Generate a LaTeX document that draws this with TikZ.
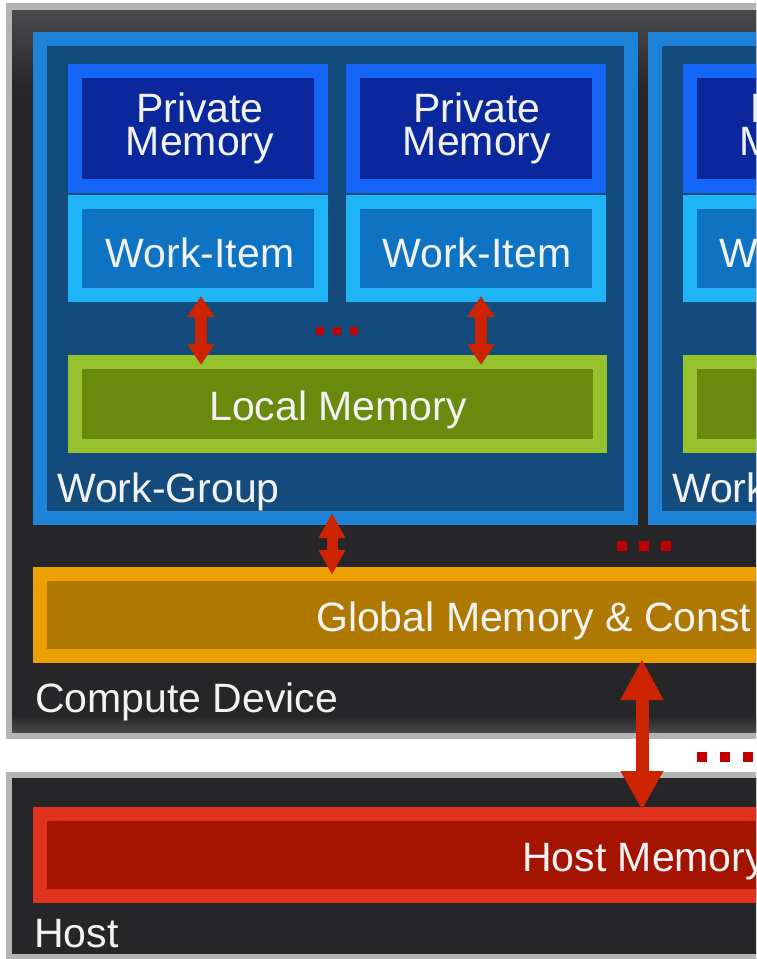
\documentclass[tikz,border=0pt]{standalone}
\usepackage{fontspec}
\setmainfont{Liberation Sans}
\usetikzlibrary{arrows.meta,fit}

\definecolor{rim}{HTML}{B4B4B4}
\definecolor{panel}{HTML}{262628}
\definecolor{panelhi}{HTML}{4A4A4C}
\definecolor{wgout}{HTML}{1E82D6}
\definecolor{wgin}{HTML}{144B7D}
\definecolor{pmout}{HTML}{1464F5}
\definecolor{pmin}{HTML}{0A289B}
\definecolor{wiout}{HTML}{1EB4F5}
\definecolor{wiin}{HTML}{0F73C3}
\definecolor{lmout}{HTML}{96C32D}
\definecolor{lmin}{HTML}{698A0C}
\definecolor{gmout}{HTML}{EBA000}
\definecolor{gmin}{HTML}{AF7800}
\definecolor{hmout}{HTML}{E1321E}
\definecolor{hmin}{HTML}{A51400}
\definecolor{arrowred}{HTML}{CD2300}
\definecolor{dotred}{HTML}{C30000}
\definecolor{txt}{HTML}{F2F2F2}

\begin{document}
\begin{tikzpicture}[x=1pt,y=-1pt,
  box/.style n args={2}{rectangle,draw=#1,fill=#2,line width=14pt,inner sep=-7pt},
  lbl/.style={text=txt,inner sep=0pt,font=\fontsize{41}{33}\selectfont},
  dbl/.style n args={4}{draw=arrowred,line width=#1,
    {Triangle[width=#2,length=#3]}-{Triangle[width=#2,length=#4]}},
  dot/.style={fill=dotred}]
\useasboundingbox (0,0) rectangle (756,959);
\clip (0,0) rectangle (756,959);
\fill[white] (0,0) rectangle (756,959);

% compute device panel
\fill[rim] (6,3) rectangle (800,739);
\fill[panel] (12,10) rectangle (800,732);
\shade[top color=panelhi,bottom color=panel] (12,10) rectangle (800,90);
\shade[top color=panel,bottom color=panelhi] (12,716) rectangle (800,732);

% host panel
\fill[rim] (6,772) rectangle (800,962);
\fill[panel] (12,778) rectangle (800,954);
\shade[top color=panelhi!120,bottom color=panel] (12,778) rectangle (800,815);

% work-groups
\node[box={wgout}{wgin},fit={(33,32) (638,525)}] (wg1) {};
\node[box={wgout}{wgin},fit={(648,32) (1253,525)}] (wg2) {};

% private memories and work-items
\node[box={pmout}{pmin},fit={(68,64) (328,193)}] (pm1) {};
\node[box={wiout}{wiin},fit={(68,195) (328,302)}] (wi1) {};
\node[box={pmout}{pmin},fit={(346,64) (606,193)}] (pm2) {};
\node[box={wiout}{wiin},fit={(346,195) (606,302)}] (wi2) {};
\node[box={pmout}{pmin},fit={(683,64) (943,193)}] (pm3) {};
\node[box={wiout}{wiin},fit={(683,195) (943,302)}] (wi3) {};

% local memories
\node[box={lmout}{lmin},fit={(68,355) (607,453)}] (lm1) {};
\node[box={lmout}{lmin},fit={(683,355) (1222,453)}] (lm2) {};

% global and host memory
\node[box={gmout}{gmin},fit={(33,567) (1300,663)}] (gm) {};
\node[box={hmout}{hmin},fit={(33,807) (1300,903)}] (hm) {};

% labels
\node[lbl,align=center] (pm1t) at (200,128) {Private\\Memory};
\node[lbl,align=center] (pm2t) at (477,128) {Private\\Memory};
\node[lbl,anchor=base] (wi1t) at (200,267) {Work-Item};
\node[lbl,anchor=base] (wi2t) at (477,267) {Work-Item};
\node[lbl,anchor=base west] (pm3a) at (750,122) {P};
\node[lbl,anchor=base west] (pm3b) at (739,155) {M};
\node[lbl,anchor=base west] (wi3t) at (719,267) {W};
\node[lbl,anchor=base] (lm1t) at (338,420) {Local Memory};
\node[lbl,anchor=base west] (wg1t) at (57,502) {Work-Group};
\node[lbl,anchor=base west] (wg2t) at (672,502) {Work};
\node[lbl,anchor=base west] (gmt) at (316,631) {Global Memory \& Const};
\node[lbl,anchor=base west] (cdt) at (35,712) {Compute Device};
\node[lbl,anchor=base west] (hmt) at (522,871) {Host Memory};
\node[lbl,anchor=base west] (hostt) at (34,947) {Host};

% connectors
\draw[dbl={12pt}{26pt}{21pt}{21pt}]
  ([xshift=3pt,yshift=6pt]wi1.south) -- ([xshift=3pt,yshift=-10pt]wi1.south |- lm1.north);
\draw[dbl={12pt}{26pt}{21pt}{21pt}]
  ([xshift=5pt,yshift=6pt]wi2.south) -- ([xshift=5pt,yshift=-10pt]wi2.south |- lm1.north);
\coordinate (mx) at (332,0);
\draw[dbl={11pt}{25pt}{25pt}{25pt}]
  ([yshift=12pt]mx |- wg1.south) -- ([yshift=-8pt]mx |- gm.north);
\coordinate (bx) at (642,0);
\draw[dbl={13pt}{40pt}{41pt}{39pt}]
  ([yshift=4pt]bx |- gm.south) -- ([yshift=-3pt]bx |- hm.north);

% ellipsis marks
\foreach \x in {316,333,350} \fill[dot] (\x,327) rectangle +(8,8);
\foreach \x in {617,639,661} \fill[dot] (\x,541) rectangle +(10,10);
\foreach \x in {697,720,743} \fill[dot] (\x,752) rectangle +(10,10);
\end{tikzpicture}
\end{document}
